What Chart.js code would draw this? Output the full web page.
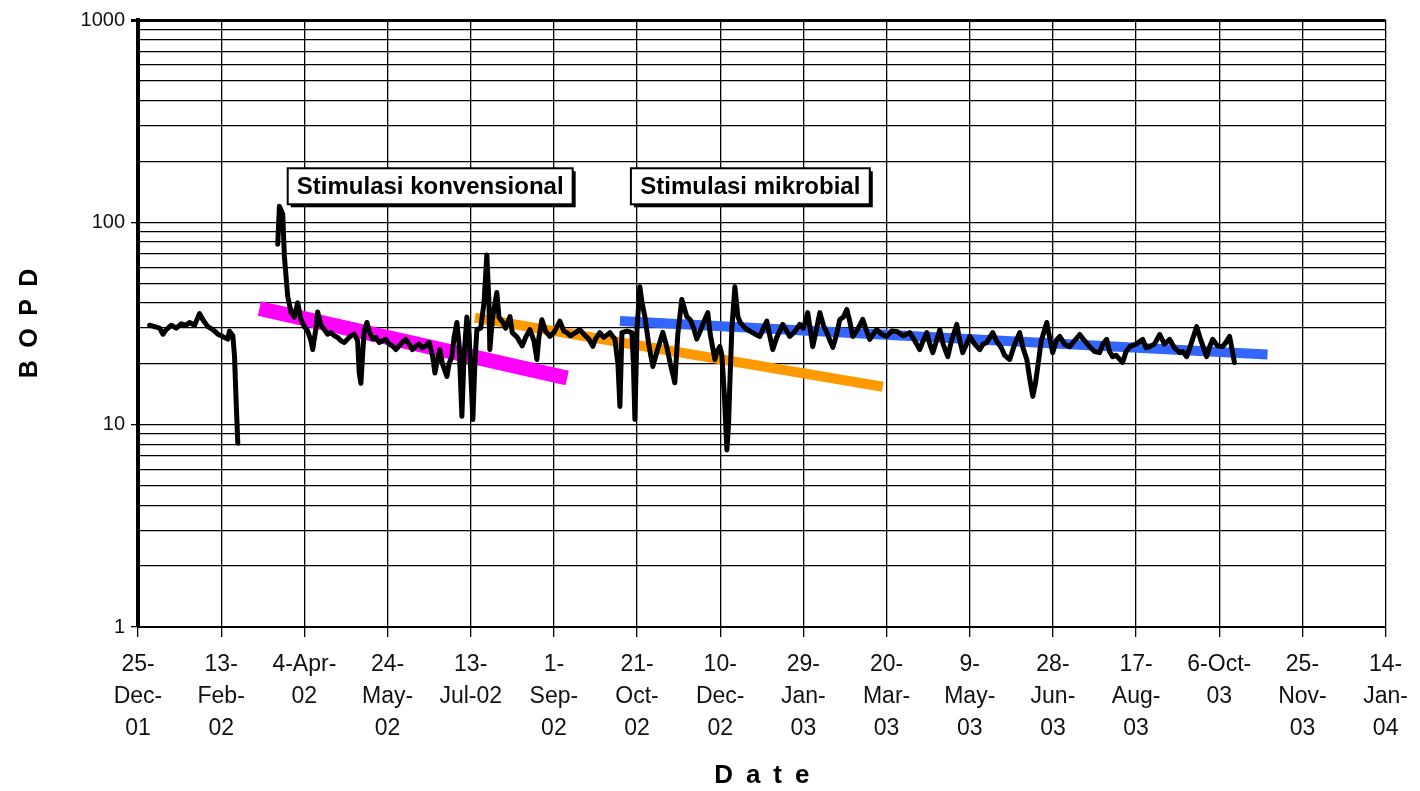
<!DOCTYPE html>
<html><head><meta charset="utf-8">
<script src="https://cdn.jsdelivr.net/npm/chart.js@4.4.1/dist/chart.umd.min.js"></script>
<style>html,body{margin:0;padding:0;background:#fff;}#wrap{width:1420px;height:791px;}</style>
</head><body><div id="wrap"><canvas id="c" width="1420" height="791"></canvas></div>
<script>
// x values are days since 25-Dec-01
const tickDays = [0,50,100,150,200,250,300,350,400,450,500,550,600,650,700,750];
const tickLabels = [["25-","Dec-","01"],["13-","Feb-","02"],["4-Apr-","02"],["24-","May-","02"],["13-","Jul-02"],["1-","Sep-","02"],["21-","Oct-","02"],["10-","Dec-","02"],["29-","Jan-","03"],["20-","Mar-","03"],["9-","May-","03"],["28-","Jun-","03"],["17-","Aug-","03"],["6-Oct-","03"],["25-","Nov-","03"],["14-","Jan-","04"]];
const yMajor = [1,10,100,1000];

const days = [7,10,13,15,17,20,23,26,29,31,34,37,39,42,45,48,50,52,54,55,57,58,59,60,
70,
84,85,87,88,90,92,94,96,98,100,102,104,105,107,108,110,112,114,116,118,120,122,124,126,128,130,132,133,134,135,136,137.6,139,141,143,145,147,149,151,153,155,157,159,161,163,165,167,169,171,173,175,177,178.5,180,181.5,183,185.7,187,188.7,190,191.7,193,194.7,196,197.7,199,201.3,202.5,203.7,206,208,209.7,211,211.5,213,215.7,217,219.4,221,223.6,
225,228,231,233,235.6,238,239.8,241,242.8,245,247.6,250,253.6,256,257.8,260,263,265.6,268,271,273.4,275,277.6,280,283.7,286.7,288.5,289.7,290.9,294,296.9,297.8,298.7,300,301.7,303,304.7,307,309.5,312,315.5,318,320,322.7,324.5,326.9,329.9,332,334,335.9,338,340,342.5,344,346.8,348,349.8,351,352.5,354,355,355.8,357,358.8,360.6,
362,365,367.8,371,373.8,376,378,380,381.6,384,387.6,390,391.8,395,397.8,400,402.6,404,405.6,408,409.9,412,414.1,416,417.7,420,421.9,424,426.1,428,429.7,432,435.7,438,439.9,442,444.1,447,450.1,453,456.1,460,463.9,467,469.9,472,474.2,476,477.8,480,482,484,486.8,489,492.2,494,495.8,498,500,503,506,508,510.2,
513.8,516,519,521,524,527,530,532,534.3,536,537.9,539.5,540.9,543,546.3,548,549.9,552,554.1,557,560.1,563,566.1,569,572.1,575,578.1,580,582.3,584,585.9,588,591.9,594,596.2,600,604,606,608.2,611,614.2,617,620.2,623,626.2,628,630.4,633,636.4,639,642.4,644,646,649,652,654,656.2,657.5,659.1];
const bopd = [31,30.5,30,28,29.5,31,30,31.5,31,32,31,35.4,33,30.5,29.5,28,27.5,27,26.5,29,27.5,22,13,8.1,
null,
78,120,110,68,43,36,34,40,33,30.5,29,26,23.5,30,36,31,29.5,28,28.5,27.5,27,26,25.5,26.5,27.5,28,26,18,16,22,29,32,29,26.5,27,25.5,26,26.4,25,24.5,23.5,24.5,25.5,26.4,25,23.5,24.4,25,24,24.5,25.5,22,18,21,23.5,20,17.3,20,21.7,27,32,25,11,22,34,28,10.6,20,29.5,30,40,69,40,23.5,33,45,34,32,30,34.2,
28.5,27,24.5,27,29.5,26,21,27,33,29,27.3,28.5,32.5,29,28.5,27.5,28.5,29.5,28,26.5,24.4,26.5,28.5,27,28.5,26.4,20,12.3,28.5,29,28.5,20,10.6,30,48,40,34.2,25,19.4,23,28.6,24,20,16.1,28,41.6,34.2,33,30,26.5,29,32,35.8,28,21,23,24.3,22,14,7.5,10,16.1,30,48,34.2,
32,30,29,28,27.3,30,32.5,27,23.5,27,31.3,29,27.3,29,31.3,30,35.8,30,24.3,30,35.8,31,28.5,26,24.1,28,33.1,34,37.1,32,27.3,29,33.1,29,26.4,28,29.5,28,27.3,29,28.9,27.5,28.5,26,23.5,26,28.5,25,22.7,26,29.5,25,21.7,26,31.3,26,22.7,25,27.3,25,23.5,25,25.5,
28.5,26,24,22,21,25,28.5,24,21,17,13.8,16,19.4,26,32,27,22.7,26,27.3,25,24.3,26,27.9,26,24.3,23,22.7,25,26.4,23,21.7,22,20.3,23,24.3,25,26.4,24,24.3,25,27.9,25,26.4,24,22.7,23,21.7,25,30.5,26,21.7,24,26.4,24.5,24.3,25.5,27.3,24,20.3];

const magentaDays = [73, 258];
const magentaBopd = [37.5, 17];
const orangeDays = [202.5, 447.7];
const orangeBopd = [33.8, 15.4];
const blueDays = [289.7, 679];
const blueBopd = [32.5, 22.2];

const noteTexts = ["Stimulasi konvensional", "Stimulasi mikrobial"];

const pts = (xs, ys) => xs.map((d, i) => ({x: d, y: ys[i]}));

const notePlugin = {
  id: 'notes',
  afterDatasetsDraw(chart) {
    const {ctx, scales: {x, y}} = chart;
    const spans = [[90, 261.3], [296.3, 439.9]];
    const yT = y.getPixelForValue(185), yB = y.getPixelForValue(122.8);
    ctx.save();
    spans.forEach((s, i) => {
      const x0 = x.getPixelForValue(s[0]), x1 = x.getPixelForValue(s[1]);
      ctx.fillStyle = '#000';
      ctx.fillRect(x0 + 3, yT + 3, x1 - x0, yB - yT);
      ctx.fillStyle = '#fff';
      ctx.fillRect(x0, yT, x1 - x0, yB - yT);
      ctx.lineWidth = 2;
      ctx.strokeStyle = '#000';
      ctx.strokeRect(x0, yT, x1 - x0, yB - yT);
      ctx.fillStyle = '#000';
      ctx.font = 'bold 24px "Liberation Sans", Arial, sans-serif';
      ctx.textAlign = 'center';
      ctx.textBaseline = 'middle';
      ctx.fillText(noteTexts[i], (x0 + x1) / 2, (yT + yB) / 2 + 1);
    });
    ctx.restore();
  }
};

const FONT = '"Liberation Sans", Arial, sans-serif';

new Chart(document.getElementById('c'), {
  type: 'line',
  data: {
    datasets: [
      {data: pts(days, bopd), borderColor: '#000', borderWidth: 5, pointRadius: 0, tension: 0, spanGaps: false, borderJoinStyle: 'round', borderCapStyle: 'round'},
      {data: pts(magentaDays, magentaBopd), borderColor: '#ff00ff', borderWidth: 15, pointRadius: 0, borderCapStyle: 'butt'},
      {data: pts(orangeDays, orangeBopd), borderColor: '#ff9900', borderWidth: 10, pointRadius: 0, borderCapStyle: 'butt'},
      {data: pts(blueDays, blueBopd), borderColor: '#3366ff', borderWidth: 10, pointRadius: 0, borderCapStyle: 'butt'}
    ]
  },
  options: {
    responsive: false,
    devicePixelRatio: 1,
    animation: false,
    layout: {padding: {left: 0, top: 20, right: 34, bottom: 0}},
    plugins: {legend: {display: false}, tooltip: {enabled: false}},
    scales: {
      x: {
        type: 'linear', min: 0, max: 750,
        afterBuildTicks: (s) => { s.ticks = tickDays.map(v => ({value: v})); },
        afterFit: (s) => { s.height = 164; },
        ticks: {
          autoSkip: false, maxRotation: 0, minRotation: 0, padding: 12, color: '#111',
          font: {family: FONT, size: 23, lineHeight: 1.39},
          callback: (v) => tickLabels[tickDays.indexOf(v)]
        },
        grid: {color: '#000', lineWidth: 1.3, tickLength: 10, tickColor: '#000', drawTicks: true},
        border: {display: true, color: '#000', width: 2},
        title: {display: true, text: 'D\u2002a\u2002t\u2002e', color: '#000', font: {family: FONT, size: 26, weight: 'bold'}, padding: {top: 0, bottom: 0}}
      },
      y: {
        type: 'logarithmic', min: 1, max: 1000,
        afterBuildTicks: (s) => {
          const t = [];
          for (let i = 0; i < yMajor.length - 1; i++) {
            for (let k = 1; k < 10; k++) t.push({value: yMajor[i] * k, major: k === 1});
          }
          t.push({value: yMajor[yMajor.length - 1], major: true});
          s.ticks = t;
        },
        afterFit: (s) => { s.width = 138; },
        ticks: {
          autoSkip: false, padding: 6, color: '#111',
          font: {family: FONT, size: 20},
          callback: (v) => yMajor.includes(v) ? String(v) : ''
        },
        grid: {
          color: '#000',
          lineWidth: (c) => (c.tick && c.tick.value === 1000) ? 3 : 1.3,
          tickLength: 7,
          tickColor: (c) => (c.tick && yMajor.includes(c.tick.value)) ? '#000' : 'rgba(0,0,0,0)'
        },
        border: {display: true, color: '#000', width: 4},
        title: {display: true, text: 'B\u2002O\u2002P\u2002D', color: '#000', font: {family: FONT, size: 25, weight: 'bold'}, padding: {top: 15, bottom: 0}}
      }
    }
  },
  plugins: [notePlugin]
});
</script>
</body></html>
